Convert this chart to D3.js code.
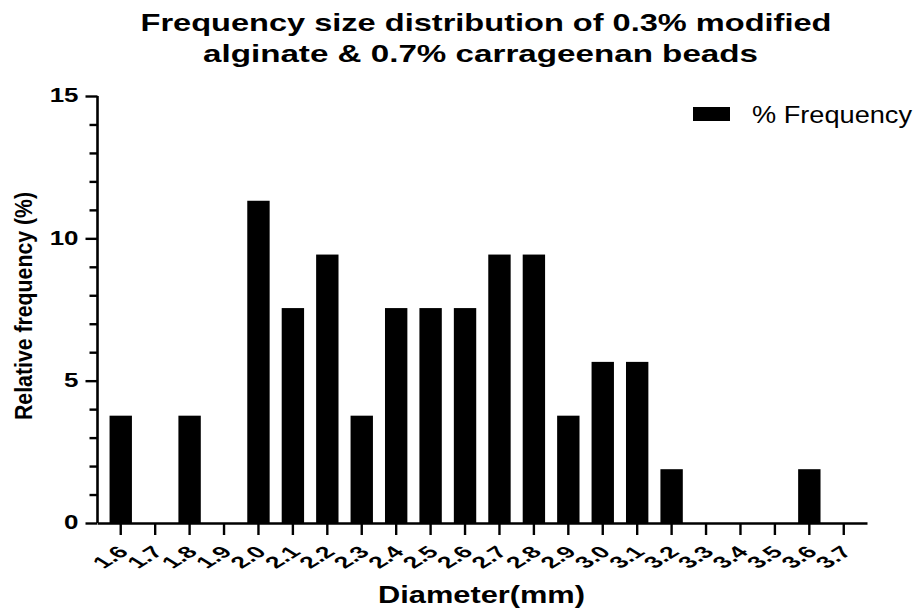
<!DOCTYPE html>
<html>
<head>
<meta charset="utf-8">
<script src="https://cdn.jsdelivr.net/npm/d3@7"></script>
<style>
  html, body { margin: 0; padding: 0; background: #fff; }
  svg { display: block; font-family: "Liberation Sans", Arial, Helvetica, sans-serif; }
</style>
</head>
<body>
<svg id="chart" width="918" height="611"></svg>
<script>
// Bead diameter classes (mm)
const categories = ["1.6","1.7","1.8","1.9","2.0","2.1","2.2","2.3","2.4","2.5","2.6",
                    "2.7","2.8","2.9","3.0","3.1","3.2","3.3","3.4","3.5","3.6","3.7"];
// Relative frequency (%) of beads in each class
const frequency = [3.77, 0, 3.77, 0, 11.32, 7.55, 9.43, 3.77, 7.55, 7.55, 7.55,
                   9.43, 9.43, 3.77, 5.66, 5.66, 1.89, 0, 0, 0, 1.89, 0];
const yMajorTicks = [0, 5, 10, 15];
const yMinorTicks = [1, 2, 3, 4, 6, 7, 8, 9, 11, 12, 13, 14];
const titleLines = ["Frequency size distribution of 0.3% modified",
                    "alginate & 0.7% carrageenan beads"];
const xTitle = "Diameter(mm)";
const yTitle = "Relative frequency (%)";
const seriesName = "% Frequency";

const svg = d3.select("#chart");

const plot = { left: 97.5, right: 867, top: 96, bottom: 523 };

const x = d3.scaleBand()
  .domain(categories)
  .range([plot.left, plot.right])
  .paddingInner(0.35)
  .paddingOuter(0.35);

const y = d3.scaleLinear()
  .domain([0, 15])
  .range([plot.bottom, plot.top]);

// stretch a text horizontally to a given rendered width
function fitWidth(sel, w) {
  sel.attr("textLength", w).attr("lengthAdjust", "spacingAndGlyphs");
}
function widen(sel, k) {
  sel.each(function () {
    const len = this.getComputedTextLength();
    d3.select(this).attr("textLength", len * k).attr("lengthAdjust", "spacingAndGlyphs");
  });
}

// bars
svg.append("g")
  .selectAll("rect")
  .data(categories.map((c, i) => ({ c, v: frequency[i] })))
  .join("rect")
  .attr("x", d => x(d.c))
  .attr("width", x.bandwidth())
  .attr("y", d => y(d.v))
  .attr("height", d => y(0) - y(d.v))
  .attr("fill", "#000");

// y axis: minor ticks
svg.append("g")
  .attr("transform", `translate(${plot.left},0)`)
  .call(d3.axisLeft(y).tickValues(yMinorTicks).tickSize(8).tickFormat("").tickSizeOuter(0))
  .call(g => g.select(".domain").remove())
  .call(g => g.selectAll("line").attr("stroke", "#000").attr("stroke-width", 2.4));

// y axis: major ticks and labels
const yAxis = svg.append("g")
  .attr("transform", `translate(${plot.left},0)`)
  .call(d3.axisLeft(y).tickValues(yMajorTicks).tickSize(12).tickPadding(7).tickSizeOuter(0));
yAxis.select(".domain").attr("stroke", "#000").attr("stroke-width", 2.6)
  .attr("d", `M0,${y(0)}V${y(15)}`);
yAxis.selectAll("line").attr("stroke", "#000").attr("stroke-width", 2.4);
yAxis.selectAll("text")
  .attr("fill", "#000")
  .style("font-size", "19.5px")
  .style("font-weight", "bold")
  .attr("dy", "0.3em")
  .call(widen, 1.33);

// x axis
const xAxis = svg.append("g")
  .attr("transform", `translate(0,${plot.bottom})`)
  .call(d3.axisBottom(x).tickSize(12).tickSizeOuter(0));
xAxis.select(".domain").attr("stroke", "#000").attr("stroke-width", 2.6);
xAxis.selectAll("line").attr("stroke", "#000").attr("stroke-width", 2.4);
xAxis.selectAll(".tick text").remove();

// slanted category labels, widened horizontally
svg.append("g")
  .selectAll("text")
  .data(categories)
  .join("text")
  .attr("transform", d => `translate(${x(d) + x.bandwidth() / 2 + 9},${plot.bottom + 30}) scale(1.6,1) rotate(-45)`)
  .attr("text-anchor", "end")
  .style("font-size", "16.5px")
  .style("font-weight", "bold")
  .attr("fill", "#000")
  .text(d => d);

// title
svg.append("g")
  .selectAll("text")
  .data(titleLines)
  .join("text")
  .attr("x", (d, i) => i === 0 ? 486 : 480.5)
  .attr("y", (d, i) => i === 0 ? 31 : 62)
  .attr("text-anchor", "middle")
  .style("font-size", "24px")
  .style("font-weight", "bold")
  .attr("fill", "#000")
  .text(d => d)
  .each(function (d, i) { fitWidth(d3.select(this), i === 0 ? 691 : 555); });

// x axis title
svg.append("text")
  .attr("x", 481.5)
  .attr("y", 603)
  .attr("text-anchor", "middle")
  .style("font-size", "23px")
  .style("font-weight", "bold")
  .attr("fill", "#000")
  .text(xTitle)
  .call(fitWidth, 207);

// y axis title
svg.append("text")
  .attr("transform", "translate(32,306) rotate(-90)")
  .attr("text-anchor", "middle")
  .style("font-size", "24px")
  .style("font-weight", "bold")
  .attr("fill", "#000")
  .text(yTitle)
  .call(fitWidth, 228);

// legend
const legend = svg.append("g");
legend.append("rect")
  .attr("x", 693).attr("y", 107)
  .attr("width", 37).attr("height", 14)
  .attr("fill", "#000");
legend.append("text")
  .attr("x", 752)
  .attr("y", 122.5)
  .style("font-size", "23px")
  .attr("fill", "#000")
  .text(seriesName)
  .call(fitWidth, 160);
</script>
</body>
</html>
